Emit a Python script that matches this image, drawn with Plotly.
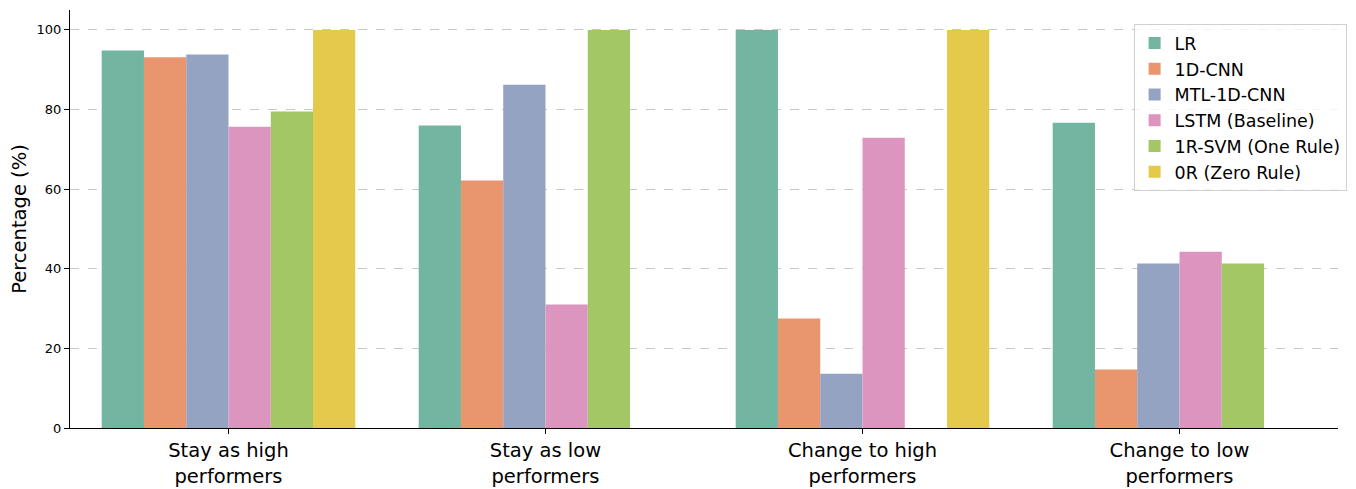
import plotly.graph_objects as go

categories = ["Stay as high<br>performers", "Stay as low<br>performers",
              "Change to high<br>performers", "Change to low<br>performers"]
models = ["LR", "1D-CNN", "MTL-1D-CNN", "LSTM (Baseline)", "1R-SVM (One Rule)", "0R (Zero Rule)"]
lr = [94.8, 76.0, 100.0, 76.7]
cnn = [93.1, 62.2, 27.5, 14.7]
mtl = [93.8, 86.2, 13.6, 41.3]
lstm = [75.7, 31.0, 72.9, 44.3]
svm = [79.5, 100.0, 0.0, 41.3]
zero_rule = [100.0, 0.0, 100.0, 0.0]
series = [lr, cnn, mtl, lstm, svm, zero_rule]
colors = ["#72b6a1", "#e9966f", "#93a3c1", "#db95bf", "#a3c765", "#e4c94a"]
yticks = [0, 20, 40, 60, 80, 100]

fig = go.Figure()
for name, vals, col in zip(models, series, colors):
    fig.add_trace(go.Bar(x=categories, y=vals, name=name,
                         marker=dict(color=col, line=dict(width=0))))

fig.update_layout(
    width=1340, height=481,
    margin=dict(l=62, r=9, t=2, b=61),
    paper_bgcolor="white", plot_bgcolor="white",
    barmode="group", bargap=0.2, bargroupgap=0,
    font=dict(family="DejaVu Sans", color="black"),
    legend=dict(x=1.006, y=0.966, xanchor="right", yanchor="top",
                bgcolor="rgba(255,255,255,0.8)", bordercolor="#d0d0d0", borderwidth=1,
                font=dict(size=17.5), tracegroupgap=0),
    showlegend=True,
)
fig.update_xaxes(
    range=[-0.5, 3.5], showline=True, linecolor="black", linewidth=1,
    ticks="outside", ticklen=5, tickcolor="black", tickfont=dict(size=19.5),
    showgrid=False, mirror=False,
)
fig.update_yaxes(
    range=[0, 105], tickvals=yticks, showline=True, linecolor="black", linewidth=1,
    ticks="outside", ticklen=5, tickcolor="black", tickfont=dict(size=13),
    showgrid=True, gridcolor="#c8c8c8", griddash="dash", gridwidth=1,
    zeroline=False,
    title=dict(text="Percentage (%)", font=dict(size=19.5), standoff=10),
)
fig.write_html("out.html")
